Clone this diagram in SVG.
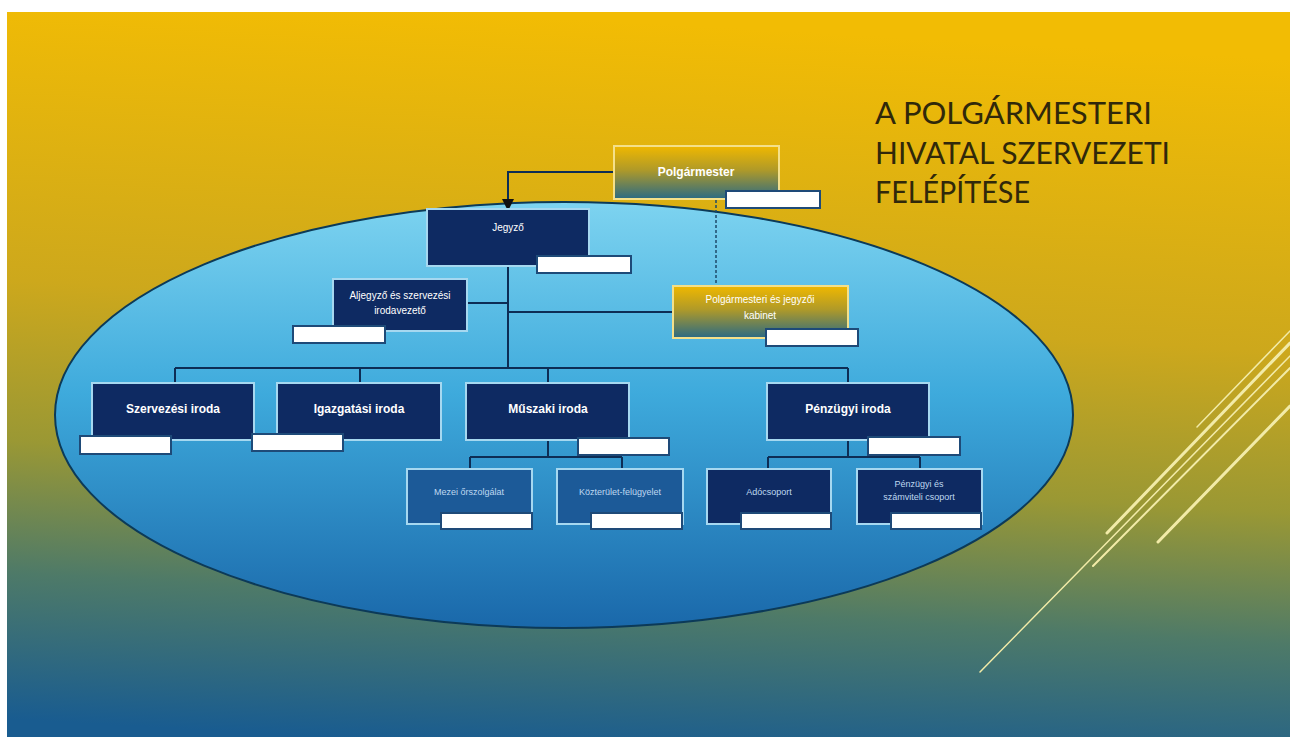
<svg xmlns="http://www.w3.org/2000/svg" width="1290" height="737" viewBox="0 0 1290 737">
<defs>
<linearGradient id="bg" x1="0.35" y1="0" x2="0.25" y2="1">
<stop offset="0" stop-color="#F2BC04"/>
<stop offset="0.4" stop-color="#CDA81C"/>
<stop offset="0.62" stop-color="#9A9834"/>
<stop offset="0.8" stop-color="#4E7A68"/>
<stop offset="1" stop-color="#195C90"/>
</linearGradient>
<linearGradient id="ell" x1="0" y1="0" x2="0" y2="1">
<stop offset="0" stop-color="#7DD3F0"/>
<stop offset="0.45" stop-color="#3EAADC"/>
<stop offset="1" stop-color="#1A68AA"/>
</linearGradient>
<linearGradient id="gold" x1="0" y1="0" x2="0" y2="1">
<stop offset="0" stop-color="#F0B800"/>
<stop offset="0.45" stop-color="#B09A28"/>
<stop offset="1" stop-color="#2A6A84"/>
</linearGradient>
<marker id="arr" viewBox="0 0 8 8" refX="4" refY="4" markerWidth="6" markerHeight="6" orient="auto">
<path d="M0,0 L8,4 L0,8 z" fill="#111"/>
</marker>
<style>
.main{fill:#0E2A62;stroke:#A6D8F0;stroke-width:2}
.sub{fill:#1C5A98;stroke:#A6D8F0;stroke-width:2}
.dark{fill:#0E2A62;stroke:#A6D8F0;stroke-width:2}
.grad{fill:url(#gold);stroke:#F4E08A;stroke-width:2}
.lbl{fill:#FFFFFF;stroke:#1E4A78;stroke-width:2}
.t{font-family:"Liberation Sans",Arial,sans-serif;fill:#FFFFFF;text-anchor:middle}
.tb{font-size:12px;font-weight:bold}
.tn{font-size:10px}
.ts{font-size:9px;fill:#BFD8F0}
.con{fill:none;stroke:#0D2D55;stroke-width:2}
.deco{stroke:#F2EBA8;stroke-linecap:round}
.title{font-family:"Lato","Open Sans","Liberation Sans",sans-serif;font-weight:400;font-size:31px;fill:#30280A}
</style>
</defs>
<rect x="0" y="0" width="1290" height="737" fill="#FFFFFF"/>
<rect x="7" y="12" width="1283" height="725" fill="url(#bg)"/>
<ellipse cx="564" cy="415" rx="509" ry="213" fill="url(#ell)" stroke="#0C3A58" stroke-width="2"/>
<g id="decor">
<line class="deco" x1="980" y1="672" x2="1290" y2="356" stroke-width="1.5"/>
<line class="deco" x1="1093" y1="566" x2="1290" y2="368" stroke-width="2"/>
<line class="deco" x1="1107" y1="533" x2="1290" y2="343" stroke-width="3"/>
<line class="deco" x1="1197" y1="427" x2="1290" y2="331" stroke-width="1.5"/>
<line class="deco" x1="1158" y1="542" x2="1290" y2="406" stroke-width="3"/>
</g>
<g id="title">
<text class="title" x="875" y="124" textLength="277" lengthAdjust="spacingAndGlyphs">A POLGÁRMESTERI</text>
<text class="title" x="875" y="164" textLength="295" lengthAdjust="spacingAndGlyphs">HIVATAL SZERVEZETI</text>
<text class="title" x="875" y="203" textLength="155" lengthAdjust="spacingAndGlyphs">FELÉPÍTÉSE</text>
</g>
<g id="connectors">
<path class="con" d="M614,172 H508 V205" stroke="#111" marker-end="url(#arr)"/>
<path d="M716,200 V286" fill="none" stroke="#1E4A6A" stroke-width="1.5" stroke-dasharray="3,2"/>
<path class="con" d="M508,266 V368"/>
<path class="con" d="M467,303 H508"/>
<path class="con" d="M508,312 H673"/>
<path class="con" d="M175,368 H848"/>
<path class="con" d="M175,368 V383 M360,368 V383 M548,368 V383 M848,368 V383"/>
<path class="con" d="M548,440 V457 M470,457 H622 M470,457 V469 M622,457 V469"/>
<path class="con" d="M848,440 V457 M768,457 H920 M768,457 V469 M920,457 V469"/>
</g>
<g id="polgarmester">
<rect class="grad" x="614" y="146" width="165" height="53"/>
<text class="t tb" x="696" y="176">Polgármester</text>
<rect class="lbl" x="726" y="191" width="94" height="17"/>
</g>
<g id="jegyzo">
<rect class="main" x="427" y="209" width="162" height="57"/>
<text class="t tn" x="508" y="231">Jegyző</text>
<rect class="lbl" x="537" y="256" width="94" height="17"/>
</g>
<g id="aljegyzo">
<rect class="main" x="333" y="279" width="134" height="52"/>
<text class="t tn" x="400" y="299">Aljegyző és szervezési</text>
<text class="t tn" x="400" y="314">irodavezető</text>
<rect class="lbl" x="293" y="326" width="92" height="17"/>
</g>
<g id="kabinet">
<rect class="grad" x="673" y="286" width="175" height="52"/>
<text class="t tn" x="760" y="303" fill="#F2EBC8">Polgármesteri és jegyzői</text>
<text class="t tn" x="760" y="319" fill="#F2EBC8">kabinet</text>
<rect class="lbl" x="766" y="329" width="92" height="17"/>
</g>
<g id="szervezesi">
<rect class="main" x="92" y="383" width="162" height="57"/>
<text class="t tb" x="173" y="413">Szervezési iroda</text>
<rect class="lbl" x="80" y="436" width="91" height="18"/>
</g>
<g id="igazgatasi">
<rect class="main" x="277" y="383" width="164" height="57"/>
<text class="t tb" x="359" y="413">Igazgatási iroda</text>
<rect class="lbl" x="252" y="434" width="91" height="17"/>
</g>
<g id="muszaki">
<rect class="main" x="466" y="383" width="163" height="57"/>
<text class="t tb" x="548" y="413">Műszaki iroda</text>
<rect class="lbl" x="578" y="438" width="91" height="17"/>
</g>
<g id="penzugyi">
<rect class="main" x="767" y="383" width="162" height="57"/>
<text class="t tb" x="848" y="413">Pénzügyi iroda</text>
<rect class="lbl" x="868" y="437" width="92" height="18"/>
</g>
<g id="mezei">
<rect class="sub" x="407" y="469" width="125" height="55"/>
<text class="t ts" x="469" y="495">Mezei őrszolgálat</text>
<rect class="lbl" x="441" y="513" width="91" height="16"/>
</g>
<g id="kozterulet">
<rect class="sub" x="557" y="469" width="126" height="55"/>
<text class="t ts" x="620" y="495">Közterület-felügyelet</text>
<rect class="lbl" x="591" y="513" width="91" height="16"/>
</g>
<g id="adocsoport">
<rect class="dark" x="707" y="469" width="124" height="55"/>
<text class="t ts" x="769" y="495">Adócsoport</text>
<rect class="lbl" x="741" y="513" width="90" height="16"/>
</g>
<g id="penzugyi-szamviteli">
<rect class="dark" x="857" y="469" width="125" height="55"/>
<text class="t ts" x="919" y="487">Pénzügyi és</text>
<text class="t ts" x="919" y="500">számviteli csoport</text>
<rect class="lbl" x="891" y="513" width="90" height="16"/>
</g>
</svg>
